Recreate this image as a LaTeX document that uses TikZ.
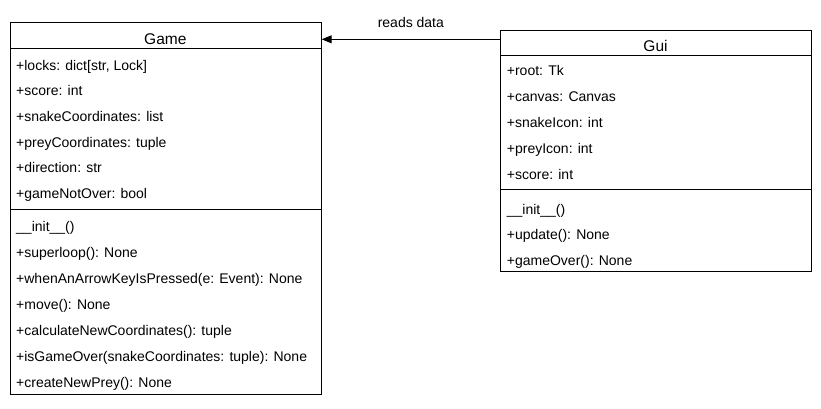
\documentclass[tikz,border=0pt]{standalone}
\usepackage{fontspec}
\setmainfont{Liberation Sans}
\usetikzlibrary{arrows.meta}

\begin{document}
\begin{tikzpicture}[x=1pt, y=-1pt,
            classbox/.style={draw, rectangle, line width=1pt, anchor=north west, inner sep=0pt},
            title/.style={anchor=base, inner sep=0pt, font=\fontsize{15.5}{18}\selectfont},
            member/.style={anchor=base west, inner sep=0pt, font=\fontsize{14}{16}\selectfont},
            arrow/.style={-{Triangle[length=10pt, width=8pt]}, line width=1pt}]

            \useasboundingbox (0,0) rectangle (821,408);

            % class Game
            \node[classbox, minimum width=310.7pt, minimum height=372pt] (game) at (10,22.3) {};
            \draw[line width=1pt] ([yshift=-26pt]game.north west) -- ([yshift=-26pt]game.north east);
            \draw[line width=1pt] ([yshift=-187pt]game.north west) -- ([yshift=-187pt]game.north east);
            \node[title] (gametitle) at (165.3,44.3) {Game};
            \node[member] (gamelocks) at (16,70) {+locks: dict[str, Lock]};
            \node[member] (gamescore) at (16,95.7) {+score: int};
            \node[member] (gamesnake) at (16,121.4) {+snakeCoordinates: list};
            \node[member] (gameprey) at (16,147.1) {+preyCoordinates: tuple};
            \node[member] (gamedirection) at (16,172.8) {+direction: str};
            \node[member] (gamenotover) at (16,198.5) {+gameNotOver: bool};
            \node[member] (gameinit) at (16,231.7) {\_\_init\_\_()};
            \node[member] (gameloop) at (16,257.7) {+superloop(): None};
            \node[member] (gamekey) at (16,283.7) {+whenAnArrowKeyIsPressed(e: Event): None};
            \node[member] (gamemove) at (16,309.7) {+move(): None};
            \node[member] (gamecalc) at (16,335.7) {+calculateNewCoordinates(): tuple};
            \node[member] (gameisover) at (16,361.7) {+isGameOver(snakeCoordinates: tuple): None};
            \node[member] (gamenewprey) at (16,387.7) {+createNewPrey(): None};

            % class Gui
            \node[classbox, minimum width=311pt, minimum height=241pt] (gui) at (500,30) {};
            \draw[line width=1pt] ([yshift=-25pt]gui.north west) -- ([yshift=-25pt]gui.north east);
            \draw[line width=1pt] ([yshift=-159.3pt]gui.north west) -- ([yshift=-159.3pt]gui.north east);
            \node[title] (guititle) at (655.5,51) {Gui};
            \node[member] (guiroot) at (506.7,75) {+root: Tk};
            \node[member] (guicanvas) at (506.7,101) {+canvas: Canvas};
            \node[member] (guisnake) at (506.7,127) {+snakeIcon: int};
            \node[member] (guiprey) at (506.7,153) {+preyIcon: int};
            \node[member] (guiscore) at (506.7,179) {+score: int};
            \node[member] (guiinit) at (506.7,214) {\_\_init\_\_()};
            \node[member] (guiupdate) at (506.7,239.5) {+update(): None};
            \node[member] (guigameover) at (506.7,265) {+gameOver(): None};

            % association
            \coordinate (readsfrom) at ([yshift=-9.3pt]gui.north west);
            \draw[arrow] (readsfrom) -- (readsfrom -| game.east)
                node[midway, above=11pt, inner sep=0pt, font=\fontsize{14}{16}\selectfont] (readslabel) {reads data};
        \end{tikzpicture}
\end{document}
